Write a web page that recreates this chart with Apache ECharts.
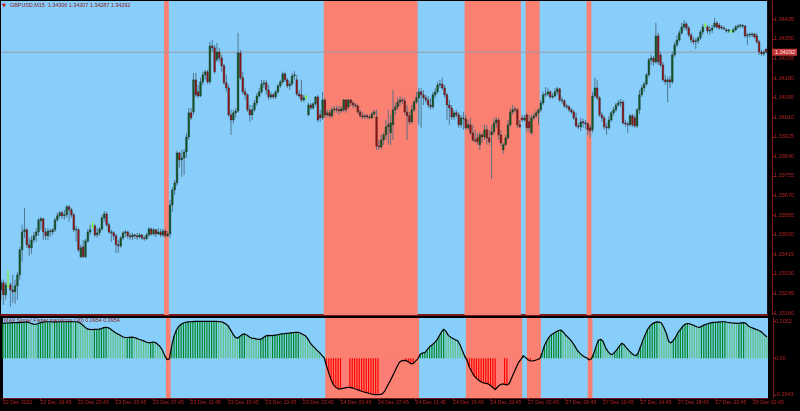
<!DOCTYPE html>
<html><head><meta charset="utf-8">
<script src="https://cdn.jsdelivr.net/npm/echarts@6/dist/echarts.min.js"></script>
<style>html,body{margin:0;padding:0;background:#000;}#c{width:800px;height:411px;}</style>
</head><body><div id="c"></div>
<script>
// prices stored in points (1e-5) above BASE
const BASE = 1.33, PT = 1e-5;
// [open, close, low, high] per M15 bar
const ohlc = [
[260,291,217,308],[291,239,195,304],[239,282,217,295],[282,282,269,347],[282,260,187,291],[260,252,204,326],[252,278,200,304],[278,326,217,339],[326,434,304,447],[434,512,382,543],
[512,521,486,616],[521,456,443,529],[456,443,408,486],[443,477,417,495],[477,495,464,512],[495,512,469,529],[512,564,495,573],[560,569,521,577],[569,512,477,573],[512,495,477,529],
[495,516,477,529],[516,512,490,525],[512,521,499,529],[521,564,512,573],[564,582,556,595],[582,595,573,603],[595,582,569,603],[582,586,564,608],[586,621,573,629],[621,608,556,629],
[608,586,573,616],[586,521,512,595],[521,525,469,538],[521,434,425,529],[404,443,399,456],[447,404,399,477],[404,473,399,482],[473,512,464,525],[512,521,499,543],[538,538,525,556],
[538,499,490,547],[499,508,486,529],[508,525,495,534],[525,573,516,586],[573,590,556,603],[590,543,534,599],[543,512,503,551],[512,508,469,521],[508,495,477,516],[495,456,421,503],
[456,451,421,477],[451,486,443,495],[486,508,477,516],[508,512,490,521],[512,495,482,516],[495,490,477,508],[490,499,477,508],[499,495,482,503],[495,490,477,508],[490,499,482,508],
[499,486,477,503],[486,482,473,495],[482,499,477,508],[499,525,490,534],[525,503,495,529],[503,521,495,529],[521,503,490,525],[503,512,499,529],[512,499,490,525],[499,516,490,525],
[516,495,486,525],[495,503,490,516],[503,629,486,651],[629,694,599,707],[694,725,673,738],[725,855,712,864],[855,825,790,859],[825,833,751,868],[833,859,759,872],[859,924,833,942],
[924,1029,911,1050],[1029,1007,998,1050],[1033,1172,1020,1202],[1172,1107,1098,1202],[1120,1102,1094,1150],[1102,1163,1098,1181],[1163,1194,1150,1207],[1194,1207,1172,1215],[1207,1163,1154,1215],[1163,1319,1154,1337],
[1319,1311,1293,1345],[1311,1207,1198,1324],[1259,1293,1250,1332],[1293,1267,1250,1311],[1267,1233,1207,1280],[1233,1159,1150,1241],[1159,1137,1120,1194],[1137,1020,1011,1150],[1020,998,933,1042],[998,1029,981,1042],
[1029,1037,1007,1050],[1037,1289,1029,1376],[1289,1181,1172,1302],[1181,1120,1107,1207],[1120,1107,1085,1137],[1107,1042,1033,1115],[1042,1020,990,1063],[1020,1042,998,1063],[1042,1072,1033,1085],[1072,1102,1059,1115],
[1102,1120,1094,1137],[1120,1154,1111,1172],[1154,1159,1137,1172],[1159,1128,1107,1172],[1128,1098,1085,1150],[1098,1107,1089,1120],[1107,1098,1089,1115],[1098,1120,1089,1128],[1120,1146,1111,1154],[1146,1163,1137,1172],
[1163,1198,1154,1207],[1198,1172,1163,1207],[1172,1146,1137,1181],[1146,1154,1128,1167],[1154,1189,1146,1202],[1189,1194,1172,1211],[1172,1111,1102,1194],[1111,1102,1094,1128],[1107,1085,1076,1172],[1085,1094,1076,1107],
[1098,1098,1089,1107],[1020,1063,1016,1072],[1063,1050,1042,1072],[1050,1068,1042,1076],[1068,1098,1059,1102],[1098,998,990,1107],[1020,1007,990,1042],[1007,1085,998,1120],[1085,1020,1007,1094],[1020,1029,1011,1042],
[1029,1016,1007,1042],[1016,1042,1007,1055],[1042,1046,1029,1059],[1046,1042,1029,1059],[1042,1037,1020,1059],[1037,1046,1029,1059],[1042,1085,1033,1089],[1085,1042,1029,1089],[1055,1085,1046,1089],[1085,1072,1059,1089],
[1072,1063,1050,1081],[1063,1059,1050,1072],[1059,1033,1024,1068],[1033,1016,1007,1042],[1016,1011,1003,1033],[1011,1016,1003,1024],[1016,1011,1003,1024],[1011,1007,1003,1020],[1007,1024,1003,1033],[1024,1033,1016,1042],
[1011,885,868,1042],[885,881,868,911],[881,911,872,933],[911,933,890,942],[933,968,911,998],[968,977,890,1042],[942,985,890,1020],[977,1042,911,1128],[1042,1055,1020,1072],[1055,1076,1042,1094],
[1076,1085,1059,1102],[1085,1081,1068,1094],[1081,1033,1020,1094],[1033,1016,911,1063],[1016,990,977,1033],[990,1042,981,1063],[1042,1076,1033,1085],[1076,1094,1068,1120],[1094,1120,977,1137],[1120,1107,964,1137],
[1107,1094,1063,1128],[1094,1085,1072,1107],[1085,1063,1050,1102],[1063,1055,1042,1094],[1055,1107,1046,1120],[1107,1120,1094,1137],[1120,1150,1111,1163],[1150,1154,1137,1172],[1154,1137,1128,1181],[1137,1107,1094,1150],
[1107,1063,998,1115],[1063,1050,977,1085],[1050,1011,998,1063],[1011,1029,998,1042],[1029,1020,1007,1042],[1020,977,964,1033],[977,1007,964,1020],[1007,1003,955,1033],[1003,964,955,1020],[964,977,955,998],
[977,942,933,1007],[942,911,903,977],[911,907,898,955],[920,903,890,942],[890,933,868,946],[933,924,898,942],[924,955,911,977],[955,920,890,977],[920,903,890,955],[933,946,742,977],
[946,985,933,1007],[985,998,964,1011],[998,933,911,1007],[933,898,885,955],[868,890,851,898],[890,920,890,933],[920,977,911,998],[977,1033,968,1050],[1033,1042,1020,1063],[1042,1046,1029,1055],
[1042,977,964,1050],[977,968,964,998],[1007,998,990,1020],[998,1007,990,1020],[1020,964,946,1029],[990,964,946,1020],[942,1007,933,1020],[1007,1016,998,1029],[1016,1029,1007,1042],[1029,1042,977,1050],
[1042,1072,1033,1085],[1072,1107,1063,1120],[1107,1111,1098,1141],[1111,1120,1102,1137],[1120,1098,1089,1128],[1098,1102,1089,1115],[1102,1120,1094,1137],[1120,1133,1107,1141],[1133,1085,1076,1137],[1085,1081,1068,1098],
[1081,1059,1050,1089],[1059,1055,1046,1068],[1055,1042,1033,1063],[1042,1033,1024,1050],[1033,1007,998,1042],[1007,972,964,1029],[972,968,959,985],[968,990,950,1007],[990,985,964,1003],[985,981,959,998],
[981,955,933,990],[964,950,920,977],[955,1102,942,1120],[1102,1137,1094,1181],[1137,1094,1085,1172],[1094,1020,1011,1102],[1020,1007,990,1033],[1007,968,955,1016],[968,964,933,985],[964,998,955,1016],
[998,1029,990,1037],[1029,1042,1016,1055],[1042,1063,1033,1072],[1063,1072,1055,1085],[1072,1076,1055,1089],[1076,985,977,1085],[985,981,968,998],[981,977,942,990],[977,1016,968,1024],[1016,977,968,1024],
[1007,972,964,1020],[972,1042,964,1050],[1042,1107,1024,1128],[1107,1137,1098,1150],[1137,1154,1120,1163],[1154,1194,1146,1202],[1194,1259,1185,1267],[1259,1267,1237,1280],[1267,1250,1233,1276],[1250,1363,1241,1419],
[1363,1250,1237,1376],[1280,1237,1228,1293],[1237,1172,1163,1250],[1172,1163,1150,1194],[1163,1172,1076,1185],[1172,1163,1137,1189],[1163,1280,1154,1293],[1280,1324,1272,1337],[1324,1345,1315,1367],[1345,1376,1337,1389],
[1376,1402,1367,1419],[1402,1415,1389,1432],[1415,1397,1384,1424],[1397,1367,1358,1406],[1367,1345,1332,1376],[1345,1337,1324,1358],[1337,1341,1306,1354],[1341,1354,1328,1363],[1354,1380,1345,1389],[1380,1402,1367,1415],
[1410,1410,1397,1419],[1402,1384,1371,1410],[1384,1389,1367,1406],[1389,1397,1376,1410],[1402,1419,1397,1441],[1419,1402,1393,1428],[1410,1397,1389,1419],[1402,1397,1389,1410],[1397,1393,1389,1406],[1389,1384,1376,1397],
[1384,1389,1376,1393],[1380,1380,1376,1389],[1380,1389,1376,1397],[1389,1402,1384,1410],[1402,1406,1393,1415],[1406,1410,1397,1415],[1406,1408,1397,1415],[1406,1363,1354,1410],[1363,1367,1324,1376],[1367,1371,1354,1376],
[1367,1371,1358,1380],[1371,1358,1350,1376],[1363,1337,1328,1376],[1337,1293,1280,1345],[1293,1285,1276,1302],[1285,1293,1276,1302],[1306,1292,1287,1307]
];
// indicator (MA slope) per bar
const slope = [
0.195,0.196,0.197,0.198,0.199,0.199,0.199,0.199,0.200,0.201,
0.203,0.200,0.195,0.191,0.190,0.194,0.199,0.202,0.204,0.204,
0.204,0.203,0.203,0.203,0.204,0.204,0.204,0.204,0.205,0.205,
0.204,0.204,0.203,0.196,0.186,0.174,0.164,0.161,0.160,0.161,
0.162,0.163,0.166,0.171,0.173,0.170,0.162,0.152,0.143,0.136,
0.128,0.120,0.116,0.116,0.117,0.118,0.116,0.111,0.106,0.102,
0.097,0.091,0.087,0.088,0.091,0.088,0.078,0.066,0.045,0.015,
-0.008,-0.003,0.070,0.125,0.158,0.178,0.190,0.197,0.201,0.203,
0.204,0.205,0.206,0.206,0.206,0.206,0.206,0.206,0.206,0.206,
0.206,0.206,0.205,0.204,0.200,0.192,0.182,0.160,0.138,0.118,
0.112,0.122,0.132,0.136,0.130,0.120,0.113,0.111,0.108,0.106,
0.106,0.115,0.124,0.128,0.126,0.127,0.129,0.131,0.134,0.136,
0.137,0.139,0.140,0.142,0.144,0.145,0.145,0.140,0.133,0.126,
0.110,0.088,0.071,0.058,0.044,0.033,0.018,0.004,-0.040,-0.082,
-0.120,-0.148,-0.162,-0.170,-0.171,-0.168,-0.165,-0.162,-0.162,-0.165,
-0.170,-0.174,-0.179,-0.184,-0.188,-0.191,-0.195,-0.199,-0.202,-0.203,
-0.203,-0.201,-0.197,-0.180,-0.155,-0.130,-0.105,-0.078,-0.050,-0.025,
-0.014,-0.012,-0.013,-0.020,-0.030,-0.030,-0.016,-0.003,0.022,0.030,
0.032,0.048,0.064,0.074,0.086,0.100,0.122,0.145,0.163,0.150,
0.128,0.118,0.110,0.103,0.098,0.075,0.043,0.012,-0.012,-0.050,
-0.075,-0.098,-0.112,-0.122,-0.132,-0.137,-0.140,-0.143,-0.152,-0.163,
-0.175,-0.160,-0.148,-0.143,-0.145,-0.149,-0.140,-0.110,-0.080,-0.050,
-0.022,-0.006,0.015,0.004,-0.008,-0.015,-0.014,-0.012,-0.007,-0.002,
0.030,0.070,0.098,0.118,0.132,0.140,0.148,0.155,0.158,0.147,
0.130,0.118,0.104,0.088,0.068,0.045,0.030,0.018,0.008,0.003,
-0.009,-0.004,0.025,0.065,0.100,0.106,0.095,0.062,0.040,0.025,
0.020,0.035,0.050,0.068,0.084,0.075,0.058,0.044,0.030,0.020,
0.014,0.030,0.065,0.100,0.132,0.160,0.180,0.192,0.199,0.203,
0.202,0.195,0.170,0.140,0.095,0.086,0.100,0.118,0.145,0.160,
0.178,0.190,0.194,0.192,0.187,0.182,0.176,0.172,0.178,0.185,
0.190,0.194,0.198,0.200,0.201,0.202,0.203,0.204,0.204,0.201,
0.199,0.197,0.196,0.195,0.196,0.198,0.199,0.195,0.180,0.173,
0.168,0.163,0.158,0.152,0.142,0.130,0.118
];
const timeTickIdx = [0,16,32,48,64,80,96,112,128,144,160,176,192,208,224,240,256,272,288,304,320];
const timeLabels = ['22 Dec 2021','22 Dec 19:45','22 Dec 23:45','23 Dec 03:45','23 Dec 07:45','23 Dec 11:45','23 Dec 15:45','23 Dec 19:45','23 Dec 23:45','24 Dec 03:45','24 Dec 07:45','24 Dec 11:45','24 Dec 15:45','24 Dec 19:45','27 Dec 02:45','27 Dec 06:45','27 Dec 10:45','27 Dec 14:45','27 Dec 18:45','27 Dec 22:45','28 Dec 02:45'];
const priceTicks = [1.33160,1.33245,1.33330,1.33415,1.33500,1.33585,1.33670,1.33755,1.33840,1.33925,1.34010,1.34095,1.34180,1.34265,1.34350,1.34435];
const lastPrice = 1.34292;
const indTicks = [0.2052, 0, -0.2043];
const indTickLabels = ['0.2052','0.00','-0.2043'];
const titleText = 'GBPUSD,M15  1.34306 1.34307 1.34287 1.34292';
const indTitle = 'MA9 Slope/ Fisher transform (30) 0.0954 0.0954';

// view ranges
const X_MIN = 0, X_MAX = 326.4;
const P_MIN = 1.331513, P_MAX = 1.345144;
const I_MIN = -0.2214, I_MAX = 0.2248;

const BLUE = '#87CEFA', SALMON = '#FA8072', AXIS = '#7a1a1a', TXT = '#b22222', FONT = 'Liberation Sans';

const candleData = ohlc.map((r, i) => [i, BASE + r[0]*PT, BASE + r[1]*PT, BASE + r[2]*PT, BASE + r[3]*PT]);

const bands = []; let s = null;
slope.forEach((v, i) => { if (v < 0) { if (s === null) s = i; } else if (s !== null) { bands.push([s, i-1]); s = null; } });
if (s !== null) bands.push([s, slope.length-1]);
const areaData = bands.map(b => [{xAxis: b[0]-0.5}, {xAxis: b[1]+0.5}]);

const histData = slope.map((v, i) => {
  const prev = i ? slope[i-1] : v;
  const col = v >= 0 ? (v >= prev ? '#008a1e' : '#5fc47f') : (v <= prev ? '#ff0000' : '#ff7a7a');
  return {value: [i, v], itemStyle: {color: col}};
});

const chart = echarts.init(document.getElementById('c'), null, {renderer: 'canvas'});
chart.setOption({
  animation: false,
  backgroundColor: '#000',
  title: [
    {left: 2, top: 3, padding: 0, text: '{t|▼}{s|' + titleText + '}',
     textStyle: {rich: {t: {fontSize: 5, color: '#c01010', fontFamily: 'DejaVu Sans', width: 8, fontWeight: 'normal'},
                        s: {fontSize: 5.4, color: '#8b1a1a', fontFamily: FONT, fontWeight: 'normal'}}}},
    {left: 4, top: 318.5, padding: 0, text: indTitle,
     textStyle: {fontSize: 5.4, color: '#8b1a1a', fontFamily: FONT, fontWeight: 'normal'}}
  ],
  grid: [
    {left: 1, top: 1, width: 767, height: 314, show: true, backgroundColor: BLUE, borderWidth: 0},
    {left: 1, top: 318, width: 767, height: 80, show: true, backgroundColor: BLUE, borderWidth: 0}
  ],
  xAxis: [
    {type: 'value', gridIndex: 0, min: X_MIN, max: X_MAX, axisLabel: {show: false}, axisTick: {show: false}, splitLine: {show: false},
     axisLine: {show: true, onZero: false, lineStyle: {color: AXIS, width: 2}}},
    {type: 'value', gridIndex: 1, min: X_MIN, max: X_MAX, splitLine: {show: false},
     axisLine: {show: true, onZero: false, lineStyle: {color: AXIS, width: 1}},
     axisTick: {show: true, customValues: timeTickIdx, length: 3, lineStyle: {color: AXIS}},
     axisLabel: {show: true, customValues: timeTickIdx, align: 'left', margin: 2, fontSize: 5.2, color: TXT, fontFamily: FONT,
       formatter: v => timeLabels[timeTickIdx.indexOf(Math.round(v))] || ''}}
  ],
  yAxis: [
    {type: 'value', gridIndex: 0, position: 'right', offset: 5, min: P_MIN, max: P_MAX, splitLine: {show: false},
     axisLine: {show: true, onZero: false, lineStyle: {color: AXIS, width: 1}},
     axisTick: {show: true, customValues: priceTicks, length: 3, lineStyle: {color: AXIS}},
     axisLabel: {customValues: priceTicks, margin: 2, fontSize: 5.5, color: TXT, fontFamily: FONT, formatter: v => v.toFixed(5)}},
    {type: 'value', gridIndex: 0, position: 'right', offset: 5, min: P_MIN, max: P_MAX, splitLine: {show: false},
     axisLine: {show: false, onZero: false}, axisTick: {show: false},
     axisLabel: {customValues: [lastPrice], margin: 0, fontSize: 5.5, color: '#ffe0e0', fontFamily: FONT,
       backgroundColor: '#c43a3a', padding: [1, 2, 0, 3], formatter: v => v.toFixed(5)}},
    {type: 'value', gridIndex: 1, position: 'right', offset: 5, min: I_MIN, max: I_MAX, splitLine: {show: false},
     axisLine: {show: true, onZero: false, lineStyle: {color: AXIS, width: 1}},
     axisTick: {show: true, customValues: indTicks, length: 3, lineStyle: {color: AXIS}},
     axisLabel: {customValues: indTicks, margin: 2, fontSize: 5.5, color: TXT, fontFamily: FONT,
       formatter: v => { const k = indTicks.findIndex(t => Math.abs(t - v) < 1e-6); return k >= 0 ? indTickLabels[k] : ''; }}}
  ],
  series: [
    {type: 'line', xAxisIndex: 0, yAxisIndex: 0, data: [], silent: true, z: 1,
     markArea: {silent: true, itemStyle: {color: SALMON, opacity: 1}, data: areaData}},
    {type: 'line', xAxisIndex: 0, yAxisIndex: 0, data: [[X_MIN, lastPrice], [X_MAX, lastPrice]], symbol: 'none', silent: true, z: 2,
     lineStyle: {color: '#9c9ca4', width: 1}},
    {type: 'custom', xAxisIndex: 0, yAxisIndex: 0, clip: true, z: 3, silent: true,
     data: candleData, encode: {x: 0, y: [1, 2, 3, 4]},
     renderItem: function (params, api) {
       const i = api.value(0), o = api.value(1), c = api.value(2), l = api.value(3), h = api.value(4);
       const pH = api.coord([i, h]), pL = api.coord([i, l]), pO = api.coord([i, o]), pC = api.coord([i, c]);
       const x = pH[0];
       const bw = api.size([1, 0])[0] * 0.72;
       const doji = Math.abs(o - c) < 1e-9;
       const up = c > o;
       const children = [{type: 'line', shape: {x1: x, y1: pH[1], x2: x, y2: pL[1]},
         style: {stroke: doji ? '#7CFC00' : '#4d6d85', lineWidth: 0.9}}];
       if (doji) {
         children.push({type: 'line', shape: {x1: x - bw/2, y1: pO[1], x2: x + bw/2, y2: pO[1]}, style: {stroke: '#7CFC00', lineWidth: 1}});
       } else {
         const top = Math.min(pO[1], pC[1]);
         const ht = Math.max(Math.abs(pO[1] - pC[1]), 0.8);
         children.push({type: 'rect', shape: {x: x - bw/2, y: top, width: bw, height: ht},
           style: {fill: up ? '#0f5f22' : '#9b1515', stroke: '#1b1b1b', lineWidth: 0.35}});
       }
       return {type: 'group', children: children};
     }},
    {type: 'line', xAxisIndex: 1, yAxisIndex: 2, data: [], silent: true, z: 1,
     markArea: {silent: true, itemStyle: {color: SALMON, opacity: 1}, data: areaData}},
    {type: 'bar', xAxisIndex: 1, yAxisIndex: 2, data: histData, barWidth: 1.2, silent: true, z: 2},
    {type: 'line', xAxisIndex: 1, yAxisIndex: 2, data: slope.map((v, i) => [i, v]), symbol: 'none', silent: true, z: 4,
     lineStyle: {color: '#000', width: 1.2}}
  ]
});
</script>
</body></html>
